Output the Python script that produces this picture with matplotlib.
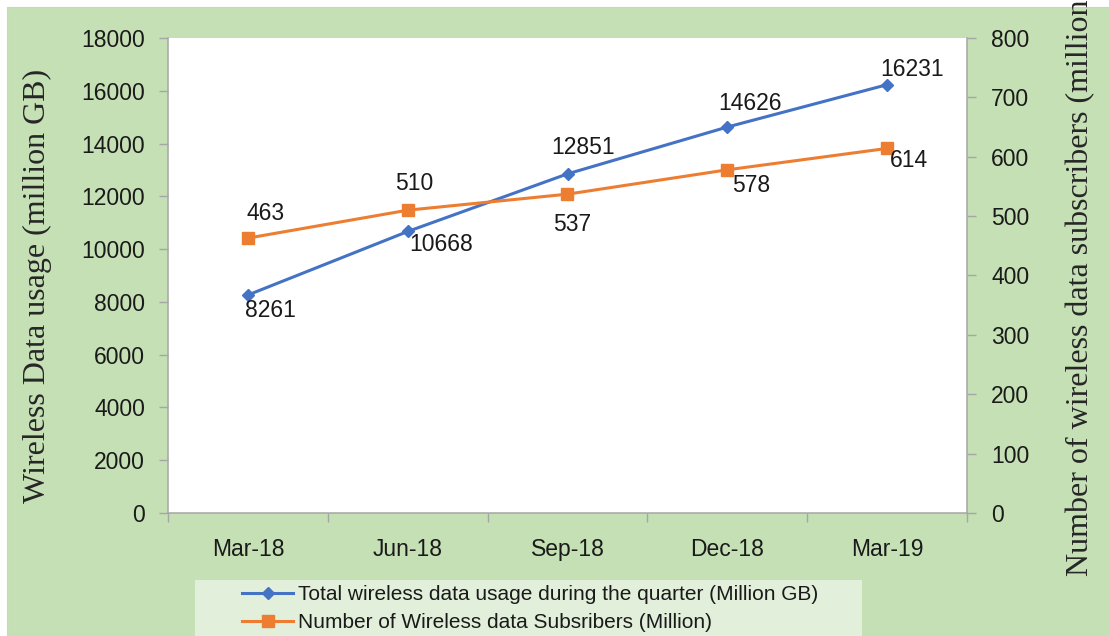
import matplotlib
matplotlib.use('Agg')
import matplotlib.pyplot as plt
from matplotlib.patches import Rectangle

# dados (trimestres)
quarters = ['Mar-18', 'Jun-18', 'Sep-18', 'Dec-18', 'Mar-19']
usage = [8261, 10668, 12851, 14626, 16231]        # milhoes de GB
subscribers = [463, 510, 537, 578, 614]           # milhoes

# deslocamento dos rotulos (pixels) - so estilo
usage_offsets = [(23, -15), (33, -13), (16, 26), (23, 24), (25, 15)]
subs_offsets = [(18, 25), (7, 27), (5, -30), (24, -16), (22, -12)]

W, H = 1109, 636
green = '#c5e0b4'
grey = '#a6a6a6'
sans = 'Liberation Sans'
serif = 'Liberation Serif'

fig = plt.figure(figsize=(W / 100, H / 100), dpi=100)
fig.patch.set_facecolor('white')
fig.patches.append(Rectangle((7 / W, 0), 1 - 7 / W, 1 - 7 / H, transform=fig.transFigure,
                             facecolor=green, edgecolor='#d0d0d0', linewidth=0.8, zorder=-2))
# caixa da legenda
fig.patches.append(Rectangle((195 / W, 0), (862 - 195) / W, 1 - 580 / H, transform=fig.transFigure,
                             facecolor='#e2efda', edgecolor='none', zorder=-1))

ax = fig.add_axes([168 / W, 1 - 513 / H, (967 - 168) / W, (513 - 38) / H])
ax.set_facecolor('white')
ax2 = ax.twinx()

x = list(range(len(quarters)))
ax.plot(x, usage, color='#4472c4', lw=2.2, marker='D', ms=6.3, zorder=3)
ax2.plot(x, subscribers, color='#ed7d31', lw=2.2, marker='s', ms=8.5, zorder=3)

# rotulos de dados
for xi, v, (dx, dy) in zip(x, usage, usage_offsets):
    ax.annotate(str(v), xy=(xi, v), xytext=(dx, dy), textcoords='offset pixels',
                ha='center', va='center', fontsize=16.5, family=sans, color='#1a1a1a')
for xi, v, (dx, dy) in zip(x, subscribers, subs_offsets):
    ax2.annotate(str(v), xy=(xi, v), xytext=(dx, dy), textcoords='offset pixels',
                 ha='center', va='center', fontsize=16.5, family=sans, color='#1a1a1a')

# eixos
ax.set_xlim(-0.5, len(quarters) - 0.5)
ax.set_ylim(0, 18000)
ax.set_yticks(range(0, 18001, 2000))
ax2.set_ylim(0, 800)
ax2.set_yticks(range(0, 801, 100))

ax.set_xticks([i - 0.5 for i in range(len(quarters) + 1)])
ax.set_xticklabels([])
ax.set_xticks(x, minor=True)
ax.set_xticklabels(quarters, minor=True)
ax.tick_params(axis='x', which='major', length=6.5, width=1, color=grey, direction='out')
ax.tick_params(axis='x', which='minor', length=0, pad=18, labelsize=16.5, labelcolor='#1a1a1a')
ax.tick_params(axis='y', length=6.5, width=1, color=grey, pad=10, labelsize=16.5, labelcolor='#1a1a1a')
ax2.tick_params(axis='y', length=6.5, width=1, color=grey, pad=11, labelsize=16.5, labelcolor='#1a1a1a')
for lab in ax.get_xticklabels(minor=True) + ax.get_yticklabels() + ax2.get_yticklabels():
    lab.set_family(sans)

for a in (ax, ax2):
    a.spines['top'].set_visible(False)
    for s in ('left', 'right', 'bottom'):
        a.spines[s].set_color(grey)
        a.spines[s].set_linewidth(1.1)
ax.spines['right'].set_visible(False)
ax2.spines['left'].set_visible(False)
ax2.spines['bottom'].set_visible(False)

ax.set_ylabel('Wireless Data usage (million GB)', fontsize=23, family=serif, color='#262626')
ax.yaxis.set_label_coords((52 - 168) / 799, (513 - 286) / 475)
# o titulo da direita fica cortado no topo, como no original
ax2.set_ylabel('Number of wireless data subscribers (million)', fontsize=23, family=serif,
               color='#262626', rotation=90)
ax2.yaxis.set_label_coords((1066 - 168) / 799, (513 - 282) / 475)

# legenda
h1, = ax.plot([], [], color='#4472c4', lw=2.2, marker='D', ms=6.3)
h2, = ax.plot([], [], color='#ed7d31', lw=2.2, marker='s', ms=8.5)
fig.legend([h1, h2], ['Total wireless data usage during the quarter (Million GB)',
                      'Number of Wireless data Subsribers (Million)'],
           loc='upper left', bbox_to_anchor=(242 / W, 1 - 585 / H), frameon=False,
           borderpad=0, borderaxespad=0, handlelength=2.45, handletextpad=0.25,
           labelspacing=0.45, prop={'family': sans, 'size': 15}, labelcolor='#1a1a1a')

plt.savefig('out.png', dpi=100, facecolor=fig.get_facecolor())
